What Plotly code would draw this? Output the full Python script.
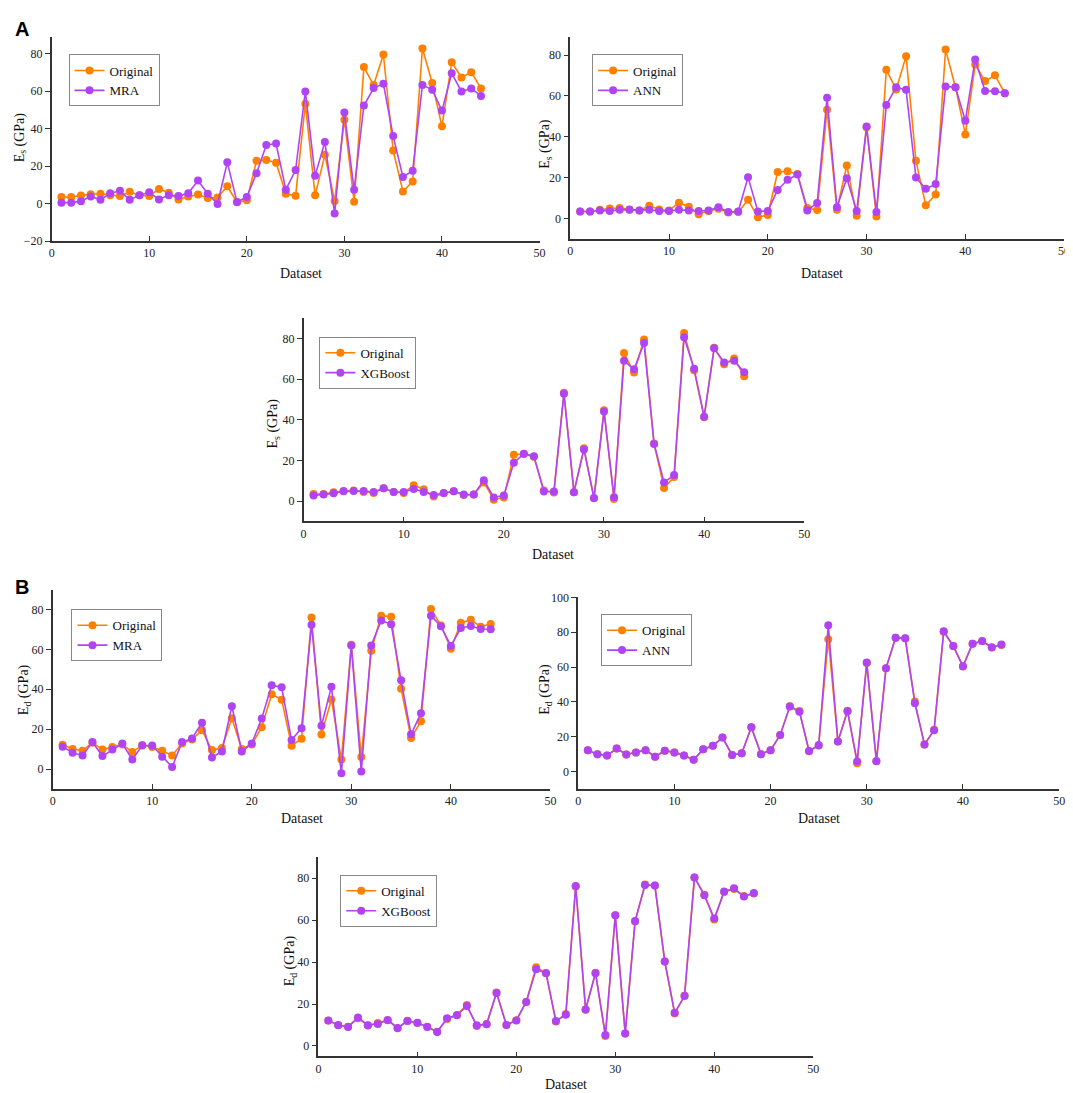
import plotly.graph_objects as go

dataset = list(range(1, 45))

Es_original = [3.5, 3.5, 4.3, 5.0, 5.2, 4.5, 4.0, 6.3, 4.5, 4.0, 7.8, 5.8, 2.2, 3.8, 4.8, 3.0, 3.2, 9.2, 0.7, 1.8,
               22.8, 23.2, 21.8, 5.2, 4.2, 53.3, 4.4, 26.0, 1.4, 44.7, 1.0, 72.8, 63.2, 79.5, 28.3, 6.5, 11.8, 82.7,
               64.3, 41.2, 75.4, 67.3, 70.1, 61.4]
Es_MRA = [0.5, 0.5, 1.3, 3.8, 2.0, 5.5, 6.8, 2.0, 4.5, 6.0, 2.2, 4.5, 4.0, 5.5, 12.3, 5.2, -0.2, 22.0, 0.8, 3.5,
          16.2, 31.2, 32.0, 7.4, 17.9, 59.8, 14.9, 32.8, -5.3, 48.6, 7.4, 52.3, 61.6, 63.9, 36.0, 14.2, 17.5, 63.3,
          60.7, 49.6, 69.5, 59.8, 61.4, 57.4]
Es_ANN = [3.5, 3.5, 4.0, 3.8, 4.3, 4.3, 4.0, 4.3, 3.8, 3.8, 4.3, 4.0, 3.8, 4.0, 5.6, 3.3, 3.5, 20.2, 3.5, 3.8,
          14.0, 19.0, 21.6, 4.0, 7.7, 59.1, 5.6, 19.8, 3.7, 45.1, 3.2, 55.6, 64.3, 63.0, 20.1, 14.6, 16.9, 64.7,
          64.3, 47.9, 77.9, 62.5, 62.3, 61.4]
Es_XGB = [2.8, 3.2, 3.8, 4.8, 5.0, 5.0, 4.5, 6.3, 4.5, 4.5, 6.0, 4.5, 3.0, 4.0, 4.8, 3.2, 3.2, 10.2, 1.8, 2.8,
          18.8, 23.3, 22.1, 4.7, 4.7, 52.8, 4.4, 25.4, 1.5, 44.1, 1.9, 69.0, 64.8, 77.7, 28.1, 9.2, 12.8, 80.6,
          65.1, 41.5, 75.1, 68.2, 69.0, 63.3]

Ed_original = [12.2, 10.0, 9.2, 13.2, 9.8, 11.0, 12.3, 8.5, 12.0, 11.0, 9.2, 6.8, 12.8, 14.8, 19.5, 9.5, 10.5, 25.5,
               10.0, 12.3, 21.0, 37.5, 34.8, 11.7, 15.2, 76.0, 17.3, 34.9, 4.8, 62.3, 6.0, 59.3, 76.9, 76.4, 40.2,
               15.5, 24.0, 80.3, 72.0, 60.3, 73.4, 74.8, 71.4, 72.7]
Ed_MRA = [11.2, 8.2, 6.8, 13.5, 6.5, 9.8, 12.8, 4.8, 11.8, 11.8, 6.2, 1.0, 13.5, 15.3, 23.2, 5.8, 8.8, 31.5,
          8.8, 12.8, 25.3, 42.0, 41.0, 14.5, 20.5, 72.4, 21.7, 41.2, -2.1, 62.0, -1.3, 62.0, 74.5, 72.6, 44.5,
          17.4, 28.0, 76.9, 71.6, 61.7, 70.7, 71.7, 70.2, 70.1]
Ed_ANN = [12.2, 10.0, 9.2, 13.2, 9.8, 11.0, 12.3, 8.5, 12.0, 11.0, 9.2, 6.8, 12.8, 14.8, 19.5, 9.5, 10.5, 25.5,
          10.0, 12.3, 21.0, 37.3, 34.3, 11.8, 15.0, 84.0, 17.3, 34.7, 5.8, 62.6, 5.9, 59.4, 76.9, 76.5, 39.2,
          15.6, 23.7, 80.6, 72.1, 60.5, 73.4, 75.0, 71.3, 72.9]
Ed_XGB = [12.2, 9.9, 9.1, 13.6, 9.9, 10.5, 12.4, 8.6, 11.9, 11.1, 9.1, 6.7, 13.2, 14.7, 19.0, 9.9, 10.4, 25.3,
          10.0, 12.2, 21.0, 36.5, 34.7, 11.9, 14.9, 76.2, 17.4, 34.7, 5.2, 62.3, 6.0, 59.5, 76.7, 76.4, 40.3,
          15.8, 23.8, 80.3, 71.8, 60.7, 73.6, 75.1, 71.2, 72.9]

W, H = 1073, 1093
ORANGE = "#FF8000"
PURPLE = "#B044F5"
SERIF = "Liberation Serif"
AXC = "#333333"

# panel: (model, subscript, orig, model values, x px, y px (bottom, top), y range, legend px, ytitle px, xtitle px)
panels = [
    ("MRA", "s", Es_original, Es_MRA, (41, 533), (229, 22), (-20, 89), (58, 40), (9, 124), (292, 262)),
    ("ANN", "s", Es_original, Es_ANN, (564, 1062), (227, 22), (-10, 89), (586, 40), (539, 130), (818, 262)),
    ("XGBoost", "s", Es_original, Es_XGB, (295, 800), (513, 307), (-10, 90), (311, 326), (265, 414), (547, 547)),
    ("MRA", "d", Ed_original, Ed_MRA, (42, 544), (784, 582), (-10, 90), (61, 602), (13, 683), (293, 814)),
    ("ANN", "d", Ed_original, Ed_ANN, (572, 1057), (784, 590), (-10, 100), (595, 607), (539, 683), (815, 814)),
    ("XGBoost", "d", Ed_original, Ed_XGB, (310, 809), (1055, 853), (-5, 90), (332, 871), (282, 958), (560, 1083)),
]

fig = go.Figure()
layout = dict(
    width=W, height=H, margin=dict(l=0, r=0, t=0, b=0),
    paper_bgcolor="white", plot_bgcolor="white",
    font=dict(family=SERIF, size=12, color="#222"),
    showlegend=True,
)
annotations = []

for i, (model, sub, orig, pred, xpx, ypx, yr, legpx, ytpos, xtpos) in enumerate(panels):
    n = i + 1
    xa = "x" if n == 1 else f"x{n}"
    ya = "y" if n == 1 else f"y{n}"
    lg = "legend" if n == 1 else f"legend{n}"
    fig.add_trace(go.Scatter(x=dataset, y=orig, mode="lines+markers", name="Original",
                             line=dict(color=ORANGE, width=1.6), marker=dict(color=ORANGE, size=8),
                             xaxis=xa, yaxis=ya, legend=lg))
    fig.add_trace(go.Scatter(x=dataset, y=pred, mode="lines+markers", name=model,
                             line=dict(color=PURPLE, width=1.6), marker=dict(color=PURPLE, size=8),
                             xaxis=xa, yaxis=ya, legend=lg))
    xkey = "xaxis" if n == 1 else f"xaxis{n}"
    ykey = "yaxis" if n == 1 else f"yaxis{n}"
    layout[xkey] = dict(domain=[xpx[0] / W, xpx[1] / W], anchor=ya, range=[0, 50], dtick=10,
                        showgrid=False, zeroline=False, showline=True, linecolor=AXC, linewidth=1.5,
                        ticks="inside", ticklen=5, tickwidth=1.2, tickcolor=AXC,
                        tickfont=dict(family=SERIF, size=12, color="#222"))
    layout[ykey] = dict(domain=[1 - ypx[0] / H, 1 - ypx[1] / H], anchor=xa, range=list(yr), dtick=20,
                        showgrid=False, zeroline=False, showline=True, linecolor=AXC, linewidth=1.5,
                        ticks="outside", ticklen=5, tickwidth=1.2, tickcolor=AXC,
                        tickfont=dict(family=SERIF, size=12, color="#222"))
    layout[lg] = dict(x=legpx[0] / W, y=1 - legpx[1] / H, xanchor="left", yanchor="top",
                      bgcolor="rgba(255,255,255,0)", bordercolor="#888", borderwidth=1,
                      font=dict(family=SERIF, size=13, color="#111"), tracegroupgap=0,
                      itemwidth=30)
    annotations.append(dict(x=ytpos[0] / W, y=1 - ytpos[1] / H, xref="paper", yref="paper",
                            text=f"E<sub>{sub}</sub> (GPa)", textangle=-90, showarrow=False,
                            font=dict(family=SERIF, size=14, color="#111"),
                            xanchor="center", yanchor="middle"))
    annotations.append(dict(x=xtpos[0] / W, y=1 - xtpos[1] / H, xref="paper", yref="paper",
                            text="Dataset", showarrow=False,
                            font=dict(family=SERIF, size=14, color="#111"),
                            xanchor="center", yanchor="middle"))

annotations.append(dict(x=2 / W, y=1 - 1 / H, xref="paper", yref="paper", text="<b>A</b>", showarrow=False,
                        font=dict(family="Liberation Sans", size=20, color="black"),
                        xanchor="left", yanchor="top"))
annotations.append(dict(x=2 / W, y=1 - 566 / H, xref="paper", yref="paper", text="<b>B</b>", showarrow=False,
                        font=dict(family="Liberation Sans", size=20, color="black"),
                        xanchor="left", yanchor="top"))
layout["annotations"] = annotations
fig.update_layout(**layout)
fig.write_html("out.html")
